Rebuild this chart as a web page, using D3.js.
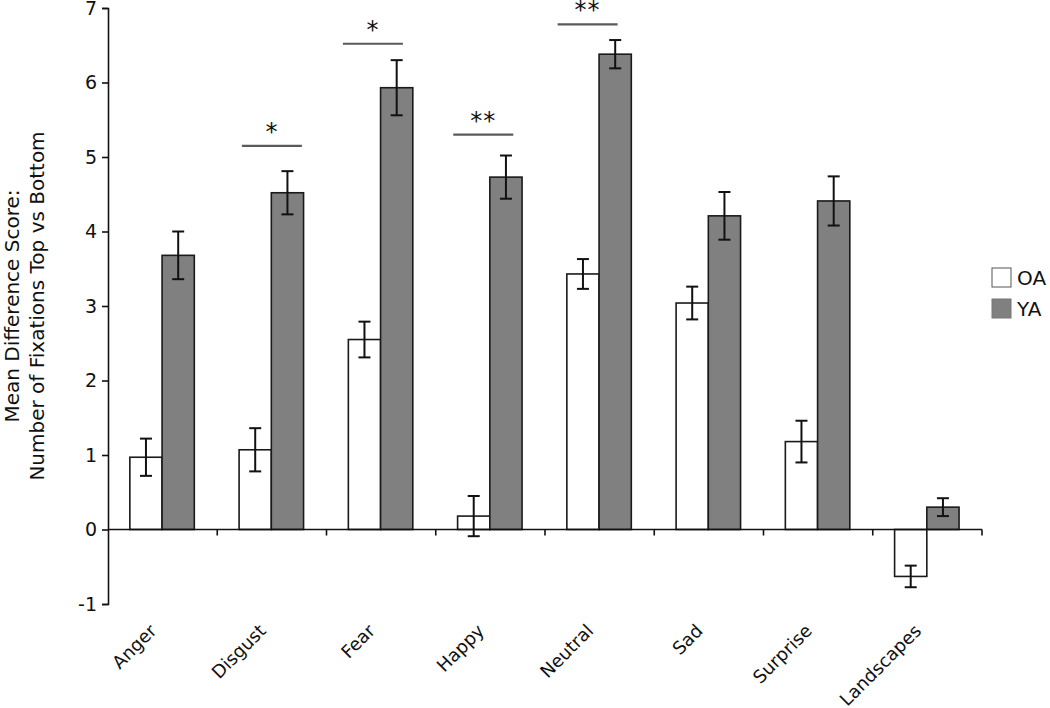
<!DOCTYPE html>
<html>
<head>
<meta charset="utf-8">
<script src="https://cdn.jsdelivr.net/npm/d3@7"></script>
<style>
  html, body { margin: 0; padding: 0; background: #fff; }
  svg { display: block; font-family: "DejaVu Sans", Verdana, sans-serif; }
</style>
</head>
<body>
<svg id="chart" width="1050" height="708"></svg>
<script>
// ---- data ----
const categories = ['Anger', 'Disgust', 'Fear', 'Happy', 'Neutral', 'Sad', 'Surprise', 'Landscapes'];
const groups = ['OA', 'YA'];
const oaMeans = [0.97, 1.07, 2.55, 0.18, 3.43, 3.04, 1.18, -0.63];
const oaErrors = [0.25, 0.29, 0.24, 0.27, 0.20, 0.22, 0.28, 0.145];
const yaMeans = [3.68, 4.52, 5.93, 4.73, 6.38, 4.21, 4.41, 0.30];
const yaErrors = [0.32, 0.29, 0.37, 0.29, 0.19, 0.32, 0.33, 0.12];
const yTicks = [-1, 0, 1, 2, 3, 4, 5, 6, 7];
const sigCategories = ['Disgust', 'Fear', 'Happy', 'Neutral'];
const sigLevels = [5.15, 6.52, 5.30, 6.78];
const sigLabels = ['*', '*', '**', '**'];
const sigShift = [0.0, -0.075, -0.065, -0.11];   // fraction of category width
const yTitleLines = ['Mean Difference Score:', 'Number of Fixations Top vs Bottom'];

// ---- layout ----
const svg = d3.select('#chart');
const x = d3.scaleBand().domain(categories).range([108, 982]).paddingInner(0).paddingOuter(0);
const bw = x.bandwidth();
const xg = d3.scaleBand().domain(groups).range([bw * 0.2, bw * 0.79]).padding(0);
const y = d3.scaleLinear().domain([-1, 7]).range([604, 8]);

const rows = [];
categories.forEach((c, i) => {
  rows.push({ cat: c, group: 'OA', mean: oaMeans[i], err: oaErrors[i] });
  rows.push({ cat: c, group: 'YA', mean: yaMeans[i], err: yaErrors[i] });
});
const fill = { OA: '#ffffff', YA: '#808080' };

// bars
svg.append('g').selectAll('rect').data(rows).join('rect')
  .attr('x', d => x(d.cat) + xg(d.group))
  .attr('width', xg.bandwidth())
  .attr('y', d => y(Math.max(0, d.mean)))
  .attr('height', d => Math.abs(y(d.mean) - y(0)))
  .attr('fill', d => fill[d.group])
  .attr('stroke', '#1a1a1a')
  .attr('stroke-width', 1.6);

// error bars
const eb = svg.append('g').attr('stroke', '#111').attr('stroke-width', 2).attr('fill', 'none');
const capW = 6;
rows.forEach(d => {
  const cx = x(d.cat) + xg(d.group) + xg.bandwidth() / 2;
  const y1 = y(d.mean + d.err), y2 = y(d.mean - d.err);
  eb.append('line').attr('x1', cx).attr('x2', cx).attr('y1', y1).attr('y2', y2);
  eb.append('line').attr('x1', cx - capW).attr('x2', cx + capW).attr('y1', y1).attr('y2', y1);
  eb.append('line').attr('x1', cx - capW).attr('x2', cx + capW).attr('y1', y2).attr('y2', y2);
});

// y axis
const yAxis = svg.append('g').attr('transform', 'translate(108,0)')
  .call(d3.axisLeft(y).tickValues(yTicks).tickFormat(d => String(d)).tickSize(6).tickPadding(5));
yAxis.select('.domain').attr('stroke', '#111').attr('stroke-width', 1.6);
yAxis.selectAll('.tick line').attr('stroke', '#111').attr('stroke-width', 1.6);
yAxis.selectAll('.tick text').attr('font-size', 19).attr('fill', '#111')
  .attr('font-family', '"DejaVu Sans", Verdana, sans-serif');

// x axis at zero
const xAxisG = svg.append('g').attr('transform', `translate(0,${y(0)})`);
xAxisG.append('line').attr('x1', 108).attr('x2', 982).attr('stroke', '#111').attr('stroke-width', 1.6);
const boundaries = categories.map(c => x(c) + bw);
xAxisG.selectAll('line.tk').data(boundaries).join('line').attr('class', 'tk')
  .attr('x1', d => d).attr('x2', d => d).attr('y1', 0).attr('y2', 6)
  .attr('stroke', '#111').attr('stroke-width', 1.6);

// x labels (rotated)
svg.append('g').selectAll('text').data(categories).join('text')
  .attr('transform', d => `translate(${x(d) + bw / 2 - 5},${632}) rotate(-45)`)
  .attr('text-anchor', 'end')
  .attr('font-size', 18)
  .attr('fill', '#111')
  .text(d => d);

// y title
const yt = svg.append('text').attr('transform', `translate(19,306) rotate(-90)`)
  .attr('text-anchor', 'middle').attr('font-size', 20).attr('fill', '#111');
yTitleLines.forEach((t, i) => {
  yt.append('tspan').attr('x', 0).attr('dy', i === 0 ? 0 : 25).text(t);
});

// significance markers
const sig = svg.append('g');
sigCategories.forEach((c, i) => {
  const cx = x(c) + bw / 2 + sigShift[i] * bw;
  const ly = y(sigLevels[i]);
  sig.append('line').attr('x1', cx - 30).attr('x2', cx + 30).attr('y1', ly).attr('y2', ly)
    .attr('stroke', '#5a5a5a').attr('stroke-width', 2.2);
  sig.append('text').attr('x', cx).attr('y', ly - 6).attr('text-anchor', 'middle')
    .attr('font-size', 24).attr('letter-spacing', 1).attr('fill', '#111').text(sigLabels[i]);
});

// legend
const leg = svg.append('g').attr('transform', 'translate(992,268)');
groups.forEach((g, i) => {
  const row = leg.append('g').attr('transform', `translate(0,${i * 31})`);
  row.append('rect').attr('width', 19).attr('height', 19)
    .attr('fill', fill[g]).attr('stroke', g === 'OA' ? '#555' : '#777').attr('stroke-width', 1);
  row.append('text').attr('x', 25).attr('y', 17).attr('font-size', 20).attr('fill', '#111').text(g);
});
</script>
</body>
</html>
